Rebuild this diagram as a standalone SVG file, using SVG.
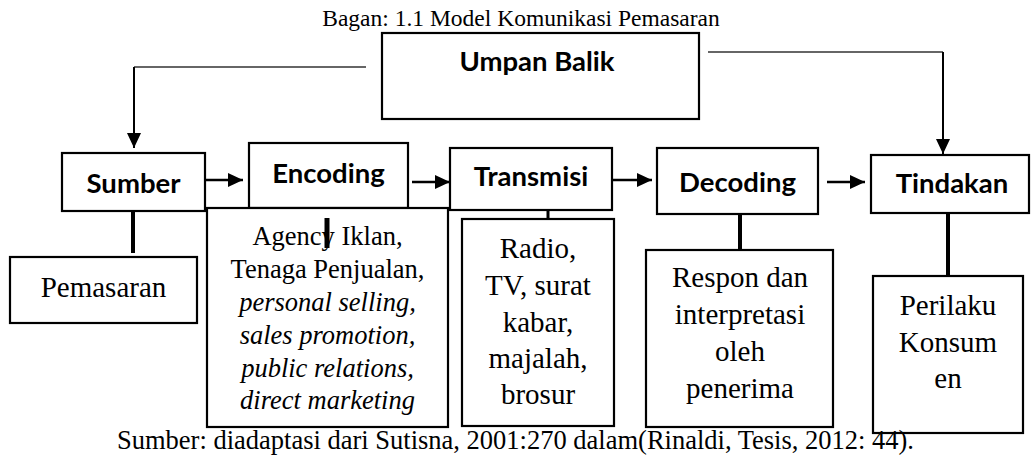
<svg xmlns="http://www.w3.org/2000/svg" width="1032" height="455" viewBox="0 0 1032 455">
<style>
.box{fill:#fff;stroke:#000;stroke-width:2.2}
.hd{font-family:Lato,"Liberation Sans",sans-serif;font-weight:700;font-size:27.5px;text-anchor:middle;fill:#000}
.tx{font-family:"Liberation Serif","Times New Roman",serif;font-size:29px;text-anchor:middle;fill:#000}
.ag{font-size:26.5px}
.it{font-style:italic}
.thin{stroke:#333;stroke-width:1.3;fill:none}
.arr{stroke:#000;stroke-width:2.5;fill:none}
.con{stroke:#000;stroke-width:4;fill:none}
</style>
<defs>
<marker id="ah" viewBox="0 0 15 14" refX="15" refY="7" markerWidth="15" markerHeight="14" markerUnits="userSpaceOnUse" orient="auto">
<path d="M0,0 L15,7 L0,14 z" fill="#000"/>
</marker>
</defs>
<text class="tx" x="521" y="26" style="font-size:23.5px">Bagan: 1.1 Model Komunikasi Pemasaran</text>
<g id="umpan-balik">
<rect class="box" x="382" y="33" width="317" height="86"/>
<text class="hd" x="537" y="71">Umpan Balik</text>
</g>
<g id="sumber">
<rect class="box" x="62" y="153" width="143" height="58"/>
<text class="hd" x="133.5" y="193">Sumber</text>
</g>
<g id="pemasaran">
<rect class="box" x="10" y="257" width="187" height="66"/>
<text class="tx" x="103.5" y="297">Pemasaran</text>
</g>
<g id="encoding">
<rect class="box" x="249" y="143" width="159" height="65"/>
<text class="hd" x="328.5" y="183">Encoding</text>
</g>
<g id="agency">
<rect class="box" x="207" y="208" width="241" height="219"/>
<text class="tx ag" x="327.5" y="245">Agency Iklan,</text>
<text class="tx ag" x="327.5" y="278">Tenaga Penjualan,</text>
<text class="tx ag it" x="327.5" y="311">personal selling,</text>
<text class="tx ag it" x="327.5" y="344">sales promotion,</text>
<text class="tx ag it" x="327.5" y="377">public relations,</text>
<text class="tx ag it" x="327.5" y="409">direct marketing</text>
</g>
<g id="transmisi">
<rect class="box" x="450" y="148" width="162" height="62"/>
<text class="hd" x="531" y="186">Transmisi</text>
</g>
<g id="media">
<rect class="box" x="462" y="219" width="152" height="207"/>
<text class="tx" x="538" y="258">Radio,</text>
<text class="tx" x="538" y="295">TV, surat</text>
<text class="tx" x="538" y="332">kabar,</text>
<text class="tx" x="538" y="368">majalah,</text>
<text class="tx" x="538" y="404">brosur</text>
</g>
<g id="decoding">
<rect class="box" x="657" y="148" width="161" height="66"/>
<text class="hd" x="737.5" y="192">Decoding</text>
</g>
<g id="respon">
<rect class="box" x="646" y="250" width="187" height="177"/>
<text class="tx" x="740" y="287">Respon dan</text>
<text class="tx" x="740" y="324">interpretasi</text>
<text class="tx" x="740" y="361">oleh</text>
<text class="tx" x="740" y="398">penerima</text>
</g>
<g id="tindakan">
<rect class="box" x="871" y="155" width="158" height="58"/>
<text class="hd" x="952" y="193">Tindakan</text>
</g>
<g id="perilaku">
<rect class="box" x="873" y="276" width="150" height="157"/>
<text class="tx" x="948" y="315">Perilaku</text>
<text class="tx" x="948" y="352">Konsum</text>
<text class="tx" x="948" y="388">en</text>
</g>
<g id="connectors">
<path class="thin" d="M366,67 H134"/>
<path class="arr" style="stroke-width:2" d="M134,67 V148" marker-end="url(#ah)"/>
<path class="thin" d="M708,52 H943"/>
<path class="arr" style="stroke-width:2" d="M943,52 V154" marker-end="url(#ah)"/>
<path class="arr" d="M206,180 H243" marker-end="url(#ah)"/>
<path class="arr" d="M412,182 H450" marker-end="url(#ah)"/>
<path class="arr" d="M612,180 H652" marker-end="url(#ah)"/>
<path class="arr" d="M827,182 H865" marker-end="url(#ah)"/>
<path class="con" d="M133,211 V253"/>
<path class="con" style="stroke-width:5" d="M327,218 V248"/>
<path class="con" style="stroke-width:3" d="M548,210 V219"/>
<path class="con" d="M740,214 V250"/>
<path class="con" d="M948,213 V275"/>
</g>
<text class="tx" x="117" y="449" style="font-size:26.5px;text-anchor:start">Sumber: diadaptasi dari Sutisna, 2001:270 dalam(Rinaldi, Tesis, 2012: 44).</text>
</svg>
